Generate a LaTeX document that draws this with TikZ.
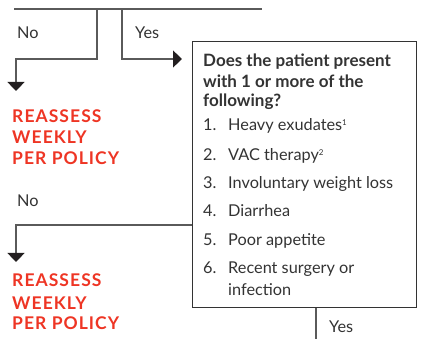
\documentclass[tikz,border=0pt]{standalone}
\usepackage{fontspec}
\setmainfont{Lato}
\usetikzlibrary{arrows.meta}
\definecolor{redtxt}{HTML}{EE3524}
\definecolor{ln}{HTML}{5A5A5A}
\definecolor{txt}{HTML}{333333}
\definecolor{tip}{HTML}{231F20}
\newcommand{\supnum}[1]{\raisebox{5.5pt}{\fontsize{8}{8}\selectfont #1}}
\begin{document}
\begin{tikzpicture}[x=1pt,y=-1pt,
  conn/.style={draw=ln,line width=1.1pt},
  arr/.style={conn,-{Triangle[width=17pt,length=9pt,color=tip]}},
  lbl/.style={anchor=base west,inner sep=0,font=\fontsize{16.3}{19}\selectfont,text=txt},
  head/.style={anchor=base west,inner sep=0,font=\fontsize{17}{20}\selectfont\bfseries,text=txt},
  warn/.style={anchor=base west,inner sep=0,font=\fontsize{17.5}{20}\selectfont\bfseries\addfontfeatures{LetterSpace=6},text=redtxt},
  qbox/.style={draw=txt,line width=1.2pt,minimum width=224pt,minimum height=266pt,anchor=north west,inner sep=0}
]
\useasboundingbox (0,0) rectangle (434,339);
% question box
\node[qbox] (box) at (192,41) {};
% top line and branches
\coordinate (tl) at (14,9);
\coordinate (tr) at (262,9);
\coordinate (nj) at (97,9);
\coordinate (yj) at (122,9);
\coordinate (nA) at (16,91);
\coordinate (yA) at (182,59);
\draw[conn] (tl) -- (tr);
\draw[arr] (nj) -- (97,59) -| (nA);
\draw[arr] (yj) |- (yA);
% second no branch
\coordinate (b1) at (192,225);
\coordinate (nB) at (16,262);
\draw[arr] (b1) -| (nB);
% bottom yes
\coordinate (bb) at (316,339);
\draw[conn] (box.south -| bb) -- (bb);
% labels
\node[lbl] (no1) at (17,39) {No};
\node[lbl] (yes1) at (135,39) {Yes};
\node[lbl] (no2) at (17,207) {No};
\node[lbl] (yes2) at (329,333) {Yes};
% red
\node[warn] (r1a) at (12,123) {REASSESS};
\node[warn] (r1b) at (12,144) {WEEKLY};
\node[warn] (r1c) at (12,165) {PER POLICY};
\node[warn] (r2a) at (12,287) {REASSESS};
\node[warn] (r2b) at (12,309) {WEEKLY};
\node[warn] (r2c) at (12,330) {PER POLICY};
% box text
\node[head] (h1) at (203,67) {Does the patient present};
\node[head] (h2) at (203,88) {with 1 or more of the};
\node[head] (h3) at (203,107) {following?};
\node[lbl] (n1) at (203,131) {1.};
\node[lbl] (t1) at (228,131) {Heavy exudates\supnum{1}};
\node[lbl] (n2) at (203,161) {2.};
\node[lbl] (t2) at (228,161) {VAC therapy\supnum{2}};
\node[lbl] (n3) at (203,189) {3.};
\node[lbl] (t3) at (228,189) {Involuntary weight loss};
\node[lbl] (n4) at (203,217) {4.};
\node[lbl] (t4) at (228,217) {Diarrhea};
\node[lbl] (n5) at (203,246) {5.};
\node[lbl] (t5) at (228,246) {Poor appetite};
\node[lbl] (n6) at (203,274) {6.};
\node[lbl] (t6) at (228,274) {Recent surgery or};
\node[lbl] (t6b) at (228,296) {infection};
\end{tikzpicture}
\end{document}
